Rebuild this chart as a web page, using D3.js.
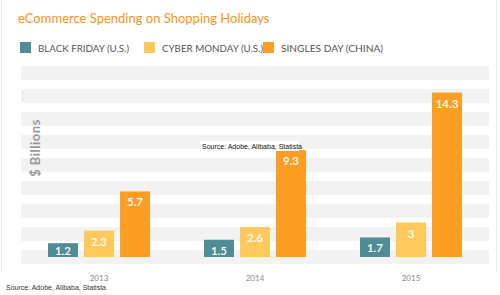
<!DOCTYPE html>
<html>
<head>
<meta charset="utf-8">
<script src="https://cdn.jsdelivr.net/npm/d3@7"></script>
<style>
  body { margin: 0; background: #fff; }
  text { font-family: Lato, "Open Sans", sans-serif; }
  text.src { font-family: Arial, "Liberation Sans", sans-serif; }
</style>
</head>
<body>
<script>
const years = ["2013", "2014", "2015"]
const seriesNames = ["BLACK FRIDAY (U.S.)", "CYBER MONDAY (U.S.)", "SINGLES DAY (CHINA)"]
const blackFriday = [1.2, 1.5, 1.7]
const cyberMonday = [2.3, 2.6, 3]
const singlesDay = [5.7, 9.3, 14.3]
const bandValues = [0, 2, 4, 6, 8, 10, 12, 14, 16]
const colors = ["#508c96", "#fdc95a", "#fd9e24"]

const width = 500, height = 295

const svg = d3.select("body")
    .append("svg")
    .attr("width", width)
    .attr("height", height)

// faint card edges
svg.append("line").attr("x1", 1.5).attr("x2", 1.5).attr("y1", 0).attr("y2", 272)
    .attr("stroke", "#ececec")
svg.append("line").attr("x1", 496.5).attr("x2", 496.5).attr("y1", 0).attr("y2", 272)
    .attr("stroke", "#ececec")

const x0 = d3.scaleBand().domain(years).range([21, 489]).paddingInner(0.346).paddingOuter(0.173)
const x1 = d3.scaleBand().domain(d3.range(3)).range([0, x0.bandwidth()]).paddingInner(0.167)
const y = d3.scaleLinear().domain([0, 16]).range([257, 73])

// grey stripes
svg.selectAll(".band")
    .data(bandValues)
    .join("rect")
    .attr("x", 21)
    .attr("width", 468)
    .attr("y", d => y(d + 0.6))
    .attr("height", d => y(d - 0.6) - y(d + 0.6))
    .attr("fill", "#f2f2f2")

const rows = years.map((yr, i) => ({ year: yr, vals: [blackFriday[i], cyberMonday[i], singlesDay[i]] }))

const groups = svg.selectAll(".grp")
    .data(rows)
    .join("g")
    .attr("transform", d => `translate(${x0(d.year)},0)`)

const bars = groups.selectAll("g")
    .data(d => d.vals.map((v, k) => ({ v, k })))
    .join("g")

bars.append("rect")
    .attr("x", d => x1(d.k))
    .attr("width", x1.bandwidth())
    .attr("y", d => y(d.v))
    .attr("height", d => y(0) - y(d.v))
    .attr("fill", d => colors[d.k])

bars.append("text")
    .attr("x", d => x1(d.k) + x1.bandwidth() / 2)
    .attr("y", d => Math.min(y(d.v) + 15, y(0) - 2))
    .attr("text-anchor", "middle")
    .attr("fill", "#fff")
    .attr("font-size", 11.5)
    .attr("font-weight", 600)
    .text(d => d.v)

// x axis labels
const xAxis = svg.append("g")
    .attr("transform", "translate(0,281)")
    .call(d3.axisBottom(x0).tickSize(0).tickPadding(0))
xAxis.select(".domain").remove()
xAxis.selectAll("text")
    .attr("dy", 0)
    .attr("fill", "#8a8a8a")
    .attr("font-size", 8)

// y title
svg.append("text")
    .attr("transform", "translate(40,148) rotate(-90)")
    .attr("text-anchor", "middle")
    .attr("fill", "#9a9a9a")
    .attr("font-size", 13)
    .attr("font-weight", 700)
    .attr("letter-spacing", 0.5)
    .text("$ Billions")

// title
svg.append("text")
    .attr("x", 18).attr("y", 23)
    .attr("fill", "#f7941e")
    .attr("font-size", 13)
    .text("eCommerce Spending on Shopping Holidays")

// legend
const legX = [20, 144, 263]
const legLen = [91, 101, 102]
const leg = svg.selectAll(".leg")
    .data(seriesNames)
    .join("g")
    .attr("transform", (d, i) => `translate(${legX[i]},42)`)
leg.append("rect").attr("width", 11).attr("height", 11).attr("fill", (d, i) => colors[i])
leg.append("text")
    .attr("x", 18).attr("y", 10)
    .attr("fill", "#555")
    .attr("font-size", 9)
    .attr("textLength", (d, i) => legLen[i])
    .attr("lengthAdjust", "spacingAndGlyphs")
    .text(d => d)

// source notes
svg.append("rect").attr("x", 200).attr("y", 141).attr("width", 99).attr("height", 10).attr("fill", "#fff")
svg.append("text")
    .attr("class", "src")
    .attr("x", 202).attr("y", 149)
    .attr("font-size", 7)
    .attr("fill", "#111")
    .text("Source: Adobe, Alibaba, Statista")

svg.append("text")
    .attr("class", "src")
    .attr("x", 6).attr("y", 290)
    .attr("font-size", 7)
    .attr("fill", "#333")
    .text("Source: Adobe, Alibaba, Statista")
</script>
</body>
</html>
